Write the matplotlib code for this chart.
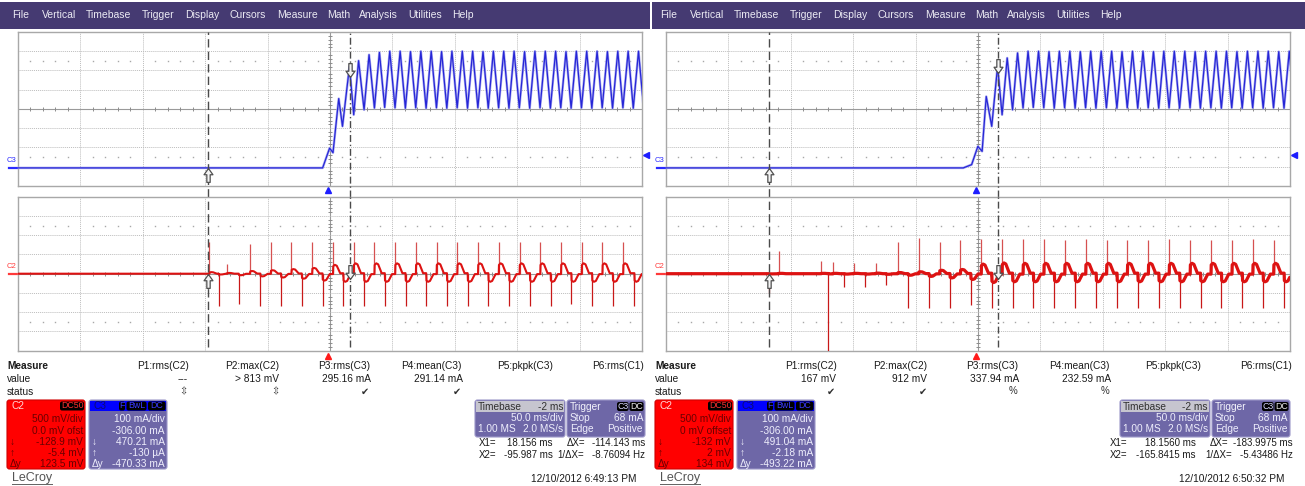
import numpy as np
import matplotlib.pyplot as plt
import matplotlib.transforms as mtransforms
from matplotlib.patches import Rectangle, FancyBboxPatch

plt.rcParams['font.family'] = ['Liberation Sans', 'DejaVu Sans']

W, H = 1305, 486

menu_items = ['File', 'Vertical', 'Timebase', 'Trigger', 'Display', 'Cursors',
              'Measure', 'Math', 'Analysis', 'Utilities', 'Help']
measure_headers = ['P1:rms(C2)', 'P2:max(C2)', 'P3:rms(C3)', 'P4:mean(C3)',
                   'P5:pkpk(C3)', 'P6:rms(C1)']

# timebase / vertical settings (both captures)
t_left = -248.0          # ms at left edge (50 ms/div, -2 ms delay)
ms_per_div = 50.0
c3_per_div, c3_offset = 100.0, -306.0   # mA
c2_per_div, c2_offset = 500.0, 0.0      # mV
trig_level = 68.0                        # mA

# ---- left capture, 6:49:13 PM ----
L_x1, L_x2 = 18.156, -95.987
L_values = ['---', '> 813 mV', '295.16 mA', '291.14 mA']
L_status = ['\u21f3', '\u21f3', '\u2714', '\u2714']
L_c2_box = ['500 mV/div', '0.0 mV ofst', '-128.9 mV', '-5.4 mV', '123.5 mV']
L_c3_box = ['100 mA/div', '-306.00 mA', '470.21 mA', '-130 \u00b5A', '-470.33 mA']
L_c3_at = [470.21, -0.13]     # C3 at X1, X2 (mA)
L_c2_at = [-128.9, -5.4]      # C2 at X1, X2 (mV)
L_cursor_txt = ['18.156 ms', '-114.143 ms', '-95.987 ms', '-8.76094 Hz']
L_date = '12/10/2012 6:49:13 PM'

L_c3_rise_t = [-248.0, -3.9, 1.7, 4.4, 9.0, 12.0, 17.6, 21.0]
L_c3_rise_v = [0, 0, 103, 79, 360, 216, 527, 276]
L_c3_peak_t = [24.9, 33.3, 41.6, 49.9, 58.2, 66.5, 74.8, 83.1, 91.4, 99.7, 108.0, 116.3,
               124.6, 132.9, 141.2, 149.5, 157.9, 166.2, 174.5, 182.8, 191.1, 199.4,
               207.7, 216.0, 224.3, 232.6, 240.9, 249.2]
L_c3_peak_v = [557, 588, 600, 606, 606, 604, 606, 606, 604, 606, 606, 606, 604, 606,
               606, 606, 604, 606, 606, 606, 604, 606, 606, 606, 604, 606, 606, 606]
L_c3_trough_t = [29.3, 37.6, 45.8, 54.1, 62.4, 70.7, 79.0, 87.3, 95.6, 103.9, 112.2,
                 120.5, 128.8, 137.1, 145.4, 153.7, 162.0, 170.3, 178.6, 186.9, 195.2,
                 203.5, 211.8, 220.1, 228.4, 236.7, 245.0, 253.3]
L_c3_trough_v = [302, 311, 314, 312, 310, 312, 310, 312, 310, 312, 310, 312, 310, 312,
                 310, 312, 310, 312, 310, 312, 310, 312, 310, 312, 310, 312, 310, 312]

L_c2_up_t = [-94.6, -80.4, -62.1, -45.5, -28.9, -12.3, 4.4, 21.0, 37.6, 54.2, 70.8,
             87.4, 104.0, 120.6, 137.2, 153.9, 170.5, 187.1, 203.7, 220.3, 236.9]
L_c2_up_v = [815, 252, 763, 815, 815, 815, 815, 815, 815, 815, 815,
             815, 815, 815, 815, 815, 815, 815, 815, 815, 815]
L_c2_up_lvl = [40, 20, 70, 90, 120, 150, 230, 270, 270, 270, 270,
               270, 270, 270, 270, 270, 270, 270, 270, 270, 270]
L_c2_dn_t = [-87.3, -71.1, -53.8, -37.2, -20.6, -4.0, 12.7, 29.3, 45.9, 62.5, 79.1,
             95.7, 112.3, 128.9, 145.6, 162.2, 178.8, 195.4, 212.0, 228.6, 245.9]
L_c2_dn_v = [-830, -780, -830, -830, -830, -830, -830, -830, -830, -830, -830,
             -830, -830, -830, -830, -830, -830, -780, -830, -830, -830]
L_c2_dn_lvl = [-20, -40, -70, -100, -130, -180, -210, -210, -210, -210, -210,
               -210, -210, -210, -210, -210, -210, -210, -210, -210, -210]

# ---- right capture, 6:50:32 PM ----
R_x1, R_x2 = 18.1560, -165.8415
R_values = ['167 mV', '912 mV', '337.94 mA', '232.59 mA']
R_status = ['\u2714', '\u2714', '%', '%']
R_c2_box = ['500 mV/div', '0 mV offset', '-132 mV', '2 mV', '134 mV']
R_c3_box = ['100 mA/div', '-306.00 mA', '491.04 mA', '-2.18 mA', '-493.22 mA']
R_c3_at = [491.04, -2.18]
R_c2_at = [-132.0, 2.0]
R_cursor_txt = ['18.1560 ms', '-183.9975 ms', '-165.8415 ms', '-5.43486 Hz']
R_date = '12/10/2012 6:50:32 PM'

R_c3_rise_t = [-248.0, -9.8, -3.1, 1.9, 5.3, 8.6, 13.0, 17.7, 21.3]
R_c3_rise_v = [0, 0, 17, 112, 86, 371, 216, 527, 276]
R_c3_peak_t = [25.4, 33.7, 42.1, 50.5, 58.9, 67.2, 75.6, 84.0, 92.3, 100.7, 109.1, 117.4,
               125.8, 134.2, 142.6, 150.9, 159.3, 167.7, 176.0, 184.4, 192.8, 201.1,
               209.5, 217.9, 226.3, 234.6, 243.0, 251.4]
R_c3_peak_v = [571, 597, 606, 606, 604, 606, 606, 604, 606, 606, 606, 604, 606, 606,
               604, 606, 606, 606, 604, 606, 606, 606, 604, 606, 606, 606, 604, 606]
R_c3_trough_t = [29.7, 38.1, 46.3, 54.7, 63.1, 71.4, 79.8, 88.2, 96.5, 104.9, 113.3,
                 121.6, 130.0, 138.4, 146.8, 155.1, 163.5, 171.9, 180.2, 188.6, 197.0,
                 205.3, 213.7, 222.1, 230.5, 238.8, 247.2, 255.6]
R_c3_trough_v = [302, 311, 314, 312, 310, 312, 310, 312, 310, 312, 310, 312, 310, 312,
                 310, 312, 310, 312, 310, 312, 310, 312, 310, 312, 310, 312, 310, 312]

R_c2_up_t = [-157.7, -123.6, -114.2, -97.5, -80.0, -62.3, -45.6, -28.8, -12.1, 4.6,
             21.3, 38.1, 54.8, 71.5, 88.3, 105.0, 121.7, 138.5, 155.2, 172.0, 188.7,
             205.5, 222.2, 238.9]
R_c2_up_v = [590, 338, 312, 286, 286, 815, 919, 831, 875, 893, 893, 893, 893, 875,
             893, 875, 875, 875, 893, 875, 875, 875, 893, 875]
R_c2_up_lvl = [10, 10, 10, 10, 15, 30, 50, 90, 110, 250, 280, 270, 270, 270, 270, 270,
               270, 270, 270, 270, 270, 270, 270, 270]
R_c2_dn_t = [-165.4, -117.9, -105.2, -88.4, -71.7, -54.0, -37.2, -20.5, -3.8, 13.0,
             29.7, 46.4, 63.2, 79.9, 96.7, 113.4, 130.1, 146.9, 163.6, 180.3, 197.1,
             213.8, 230.5, 247.3]
R_c2_dn_v = [-500, -2100, -338, -338, -296, -900, -900, -900, -813, -900, -900, -900,
             -900, -900, -900, -900, -900, -900, -900, -900, -900, -900, -900, -900]
R_c2_dn_lvl = [-5, -5, -10, -10, -15, -40, -70, -110, -150, -230, -210, -210, -210,
               -210, -210, -210, -210, -210, -210, -210, -210, -210, -210, -210]

# shape of the C2 step after each spike (ms after spike, fraction of level)
hump_dt = [0.2, 1.5, 3.0, 4.5, 5.8]
hump_k = [0.85, 1.0, 0.9, 0.45, 0.05]

# ---------------- figure helpers ----------------
fig = plt.figure(figsize=(W / 100, H / 100), dpi=100)
fig.patch.set_facecolor('white')
# pixel coords, origin top-left
PX = mtransforms.Affine2D().scale(1, -1).translate(0, H).scale(1 / 100) + fig.dpi_scale_trans

PURPLE = '#6e67a7'
MENU = '#453a72'


def txt(x, y, s, ha='left', size=7.3, color='#1a1a1a', **kw):
    fig.text(x, y, s, transform=PX, ha=ha, va='center', fontsize=size, color=color, **kw)


def rbox(x, y, w, h, fc, ec='none', r=2.5, lw=0.8):
    fig.add_artist(FancyBboxPatch((x, y), w, h, boxstyle=f'round,pad=0,rounding_size={r}',
                                  transform=PX, fc=fc, ec=ec, lw=lw))


def tag(x0, x1, y, s, color):
    rbox(x0, y - 4.5, x1 - x0, 9, '#000000', r=2)
    txt((x0 + x1) / 2, y, s, ha='center', size=6.3, color=color)


def add_scope_axes(x0, y0, x1, y1, lo, per_div):
    ax = fig.add_axes([x0 / W, 1 - y1 / H, (x1 - x0) / W, (y1 - y0) / H])
    ax.set_xlim(t_left, t_left + 10 * ms_per_div)
    ax.set_ylim(lo, lo + 8 * per_div)
    ax.set_xticks([])
    ax.set_yticks([])
    for s in ax.spines.values():
        s.set_color('#a8a8a8')
        s.set_linewidth(1.0)
    for k in range(1, 10):
        x = t_left + k * ms_per_div
        if k == 5:
            ax.axvline(x, color='#9a9a9a', lw=0.8, zorder=1)
        else:
            ax.axvline(x, color='#bdbdbd', lw=0.7, ls=(0, (1, 1)), zorder=1)
    for k in range(1, 8):
        y = lo + k * per_div
        if k == 4:
            ax.axhline(y, color='#9a9a9a', lw=0.8, zorder=1)
        else:
            ax.axhline(y, color='#bdbdbd', lw=0.7, ls=(0, (1, 1)), zorder=1)
    minor_x = [t_left + (k + j / 5) * ms_per_div for k in range(10) for j in range(1, 5)]
    minor_y = [lo + (k + j / 5) * per_div for k in range(8) for j in range(1, 5)]
    ax.plot(minor_x, [lo + 4 * per_div] * len(minor_x), ls='none', marker='|', ms=3.5,
            mew=0.7, color='#8c8c8c', zorder=1)
    ax.plot([t_left + 5 * ms_per_div] * len(minor_y), minor_y, ls='none', marker='_',
            ms=3.5, mew=0.7, color='#8c8c8c', zorder=1)
    for r in (1.5, 6.5):
        ax.plot(minor_x, [lo + r * per_div] * len(minor_x), ls='none', marker='s',
                ms=1.0, mew=0, color='#a8a8a8', zorder=1)
    return ax


def c3_trace(rise_t, rise_v, peak_t, peak_v, trough_t, trough_v):
    ts, vs = list(rise_t), list(rise_v)
    for a, b, c, d in zip(peak_t, peak_v, trough_t, trough_v):
        ts += [a, c]
        vs += [b, d]
    return ts, vs


def c2_body(up_t, up_lvl, dn_t, dn_lvl):
    t_end = t_left + 10 * ms_per_div
    ev = sorted(zip(list(up_t) + list(dn_t), list(up_lvl) + list(dn_lvl)))
    ts, vs = [t_left], [0.0]
    for i, (te, lv) in enumerate(ev):
        nxt = ev[i + 1][0] if i + 1 < len(ev) else t_end
        ts.append(te)
        vs.append(vs[-1])
        for dt, k in zip(hump_dt, hump_k):
            if te + dt < nxt:
                ts.append(te + dt)
                vs.append(lv * k)
    ts.append(t_end)
    vs.append(vs[-1])
    return ts, vs


UP_ARROW = [(0, 0), (0.32, -0.45), (0.12, -0.45), (0.12, -1), (-0.12, -1),
            (-0.12, -0.45), (-0.32, -0.45), (0, 0)]
DOWN_ARROW = [(x, -y) for x, y in UP_ARROW]


def draw_screen(ox, menu_span, tb_dx, cur_pos, x1, x2, values, status, c2_box, c3_box,
                c3_at, c2_at, cursor_txt, date, c3_data, c2_data, c2_lw):
    # menu bar
    fig.add_artist(Rectangle((menu_span[0], 2), menu_span[1] - menu_span[0], 27,
                             transform=PX, fc=MENU, ec='none'))
    menu_x = [12.4, 41.5, 85.8, 142.2, 185.3, 230, 277, 326.7, 359, 408, 452]
    for mx, item in zip(menu_x, menu_items):
        txt(ox + mx, 15.5, item, size=7.5, color='#ecebf4')

    ax_t = add_scope_axes(ox + 18, 32, ox + 642, 186, -c3_offset - 4 * c3_per_div, c3_per_div)
    ax_b = add_scope_axes(ox + 18, 196.7, ox + 642, 350.7, -c2_offset - 4 * c2_per_div, c2_per_div)

    # C3 current trace
    ts, vs = c3_trace(*c3_data)
    ax_t.plot(ts, vs, color='#aeaef2', lw=1.8, zorder=3)
    ax_t.plot(ts, vs, color='#2626d6', lw=0.9, zorder=4)

    # C2 voltage trace
    up_t, up_v, up_lvl, dn_t, dn_v, dn_lvl = c2_data
    ts, vs = c2_body(up_t, up_lvl, dn_t, dn_lvl)
    ax_b.vlines(up_t, 0, up_v, color='#d65050', lw=0.9, zorder=3)
    ax_b.vlines(dn_t, 0, dn_v, color='#c81818', lw=0.9, zorder=3)
    ax_b.plot(ts, vs, color='#dd1212', lw=c2_lw, zorder=4)

    # channel markers and labels
    for ax, lab, col in ((ax_t, 'C3', '#2a2aff'), (ax_b, 'C2', '#ff3a3a')):
        bt = mtransforms.blended_transform_factory(ax.transAxes, ax.transData)
        ax.plot([-0.0145, 0], [0, 0], transform=bt, color=col, lw=1.6, clip_on=False)
        ax.annotate(lab, (-0.0175, 0), xycoords=bt, xytext=(0, 2.5), textcoords='offset points',
                    ha='left', va='bottom', fontsize=5.5, color=col)

    # trigger markers
    bt = mtransforms.blended_transform_factory(ax_t.transData, ax_t.transAxes)
    ax_t.plot([0], [-0.026], transform=bt, marker='^', ms=4.5, color='#1e1eff', clip_on=False)
    bt = mtransforms.blended_transform_factory(ax_b.transData, ax_b.transAxes)
    ax_b.plot([0], [-0.034], transform=bt, marker='^', ms=4.5, color='#ff1a1a', clip_on=False)
    bt = mtransforms.blended_transform_factory(ax_t.transAxes, ax_t.transData)
    ax_t.plot([1.006], [trig_level], transform=bt, marker='<', ms=4.5, color='#1e1eff',
              clip_on=False)

    # cursors
    for x, ls in ((x2, (0, (6, 3))), (x1, (0, (5, 2, 1, 2)))):
        ax_t.axvline(x, ymin=-0.07, ymax=1, color='#4a4a4a', lw=1.0, ls=ls, clip_on=False, zorder=6)
        ax_b.axvline(x, ymin=0.025, ymax=1, color='#4a4a4a', lw=1.0, ls=ls, zorder=6)
    for ax, at in ((ax_t, c3_at), (ax_b, c2_at)):
        ax.plot([x1], [at[0]], ls='none', marker=DOWN_ARROW, ms=20, mfc='#f4f4f4',
                mec='#505050', mew=0.9, zorder=7)
        ax.plot([x2], [at[1]], ls='none', marker=UP_ARROW, ms=20, mfc='#f4f4f4',
                mec='#505050', mew=0.9, zorder=7)

    # measure table
    txt(ox + 7, 366, 'Measure', weight='bold')
    txt(ox + 7, 379, 'value')
    txt(ox + 7, 391.7, 'status')
    for hx, h in zip([189, 279, 370, 462, 553, 644], measure_headers):
        txt(ox + hx, 366, h, ha='right')
    for vx, v in zip([188, 279, 371, 463], values):
        txt(ox + vx, 379, v, ha='right')
    for sx, s in zip([183, 275, 365, 457], status):
        txt(ox + sx, 391.5, s, ha='center', size=7, color='#303030')

    # channel boxes
    rows_y = [419, 430.5, 442, 453, 464]
    rbox(ox + 7, 400, 78, 69, '#ff0000', ec='#d00000')
    txt(ox + 12, 406, 'C2', color='#ffd6d6')
    tag(ox + 60, ox + 84, 406, 'DC50', '#ff3030')
    for y, s in zip(rows_y, c2_box):
        txt(ox + 83, y, s, ha='right', color='#6a0000')
    for y, s in zip(rows_y[2:], ['\u2193', '\u2191', '\u0394y']):
        txt(ox + 10, y, s, color='#6a0000')

    rbox(ox + 89, 400, 78, 69, PURPLE, ec='#9c97c9')
    fig.add_artist(Rectangle((ox + 90, 400.8), 76, 10.5, transform=PX, fc='#0000ff', ec='none'))
    txt(ox + 93, 406, 'C3', color='#0c0c70')
    tag(ox + 119, ox + 125, 406, 'F', '#3a3aff')
    tag(ox + 126.5, ox + 146.5, 406, 'BwL', '#3a3aff')
    tag(ox + 148, ox + 165.5, 406, 'DC', '#3a3aff')
    for y, s in zip(rows_y, c3_box):
        txt(ox + 165, y, s, ha='right', color='#eeeefc')
    for y, s in zip(rows_y[2:], ['\u2193', '\u2191', '\u0394y']):
        txt(ox + 92, y, s, color='#eeeefc')

    # timebase / trigger boxes
    bx = ox + 475 + tb_dx
    rbox(bx, 400, 90, 37, PURPLE, ec='#9c97c9')
    fig.add_artist(Rectangle((bx + 1, 400.8), 88, 11, transform=PX, fc='#c6c5cf', ec='none'))
    txt(bx + 3, 406.5, 'Timebase', color='#303030')
    txt(bx + 88, 406.5, '-2 ms', ha='right', color='#303030')
    txt(bx + 88, 418, '50.0 ms/div', ha='right', color='#eeeefc')
    txt(bx + 3, 429.5, '1.00 MS', color='#eeeefc')
    txt(bx + 88, 429.5, '2.0 MS/s', ha='right', color='#eeeefc')
    gx = bx + 92
    rbox(gx, 400, 78, 37, PURPLE, ec='#9c97c9')
    txt(gx + 3, 406.5, 'Trigger', color='#f4f4fc')
    tag(gx + 50, gx + 61.5, 406.5, 'C3', '#d8d8ff')
    tag(gx + 62.5, gx + 76.5, 406.5, 'DC', '#e8e8e8')
    txt(gx + 3, 418, 'Stop', color='#eeeefc')
    txt(gx + 76, 418, '68 mA', ha='right', color='#eeeefc')
    txt(gx + 3, 429.5, 'Edge', color='#eeeefc')
    txt(gx + 76, 429.5, 'Positive', ha='right', color='#eeeefc')

    # cursor readout
    lx, vx, dx, dvx, ix = cur_pos
    fs = 7.0
    txt(ox + lx, 443.3, 'X1=', size=fs)
    txt(ox + vx, 443.3, cursor_txt[0], ha='right', size=fs)
    txt(ox + dx, 443.3, '\u0394X=', size=fs)
    txt(ox + dvx, 443.3, cursor_txt[1], ha='right', size=fs)
    txt(ox + lx, 455, 'X2=', size=fs)
    txt(ox + vx, 455, cursor_txt[2], ha='right', size=fs)
    txt(ox + ix, 455, '1/\u0394X=', size=fs)
    txt(ox + dvx, 455, cursor_txt[3], ha='right', size=fs)

    # footer
    txt(ox + 12, 477.5, 'LeCroy', size=9, color='#555555')
    fig.add_artist(Rectangle((ox + 12, 484.2), 41, 0.9, transform=PX, fc='#666666', ec='none'))
    txt(ox + 636.5, 479, date, ha='right', size=7.3)


draw_screen(0, (0, 650), 0, (478.9, 552.7, 566.7, 645.5, 557.6), L_x1, L_x2,
            L_values, L_status, L_c2_box, L_c3_box, L_c3_at, L_c2_at, L_cursor_txt, L_date,
            (L_c3_rise_t, L_c3_rise_v, L_c3_peak_t, L_c3_peak_v, L_c3_trough_t, L_c3_trough_v),
            (L_c2_up_t, L_c2_up_v, L_c2_up_lvl, L_c2_dn_t, L_c2_dn_v, L_c2_dn_lvl),
            1.5)
draw_screen(648, (652, 1305), -3, (461.5, 547.5, 561.7, 645.0, 557.0), R_x1, R_x2,
            R_values, R_status, R_c2_box, R_c3_box, R_c3_at, R_c2_at, R_cursor_txt, R_date,
            (R_c3_rise_t, R_c3_rise_v, R_c3_peak_t, R_c3_peak_v, R_c3_trough_t, R_c3_trough_v),
            (R_c2_up_t, R_c2_up_v, R_c2_up_lvl, R_c2_dn_t, R_c2_dn_v, R_c2_dn_lvl),
            2.3)

fig.savefig('out.png', dpi=100)
